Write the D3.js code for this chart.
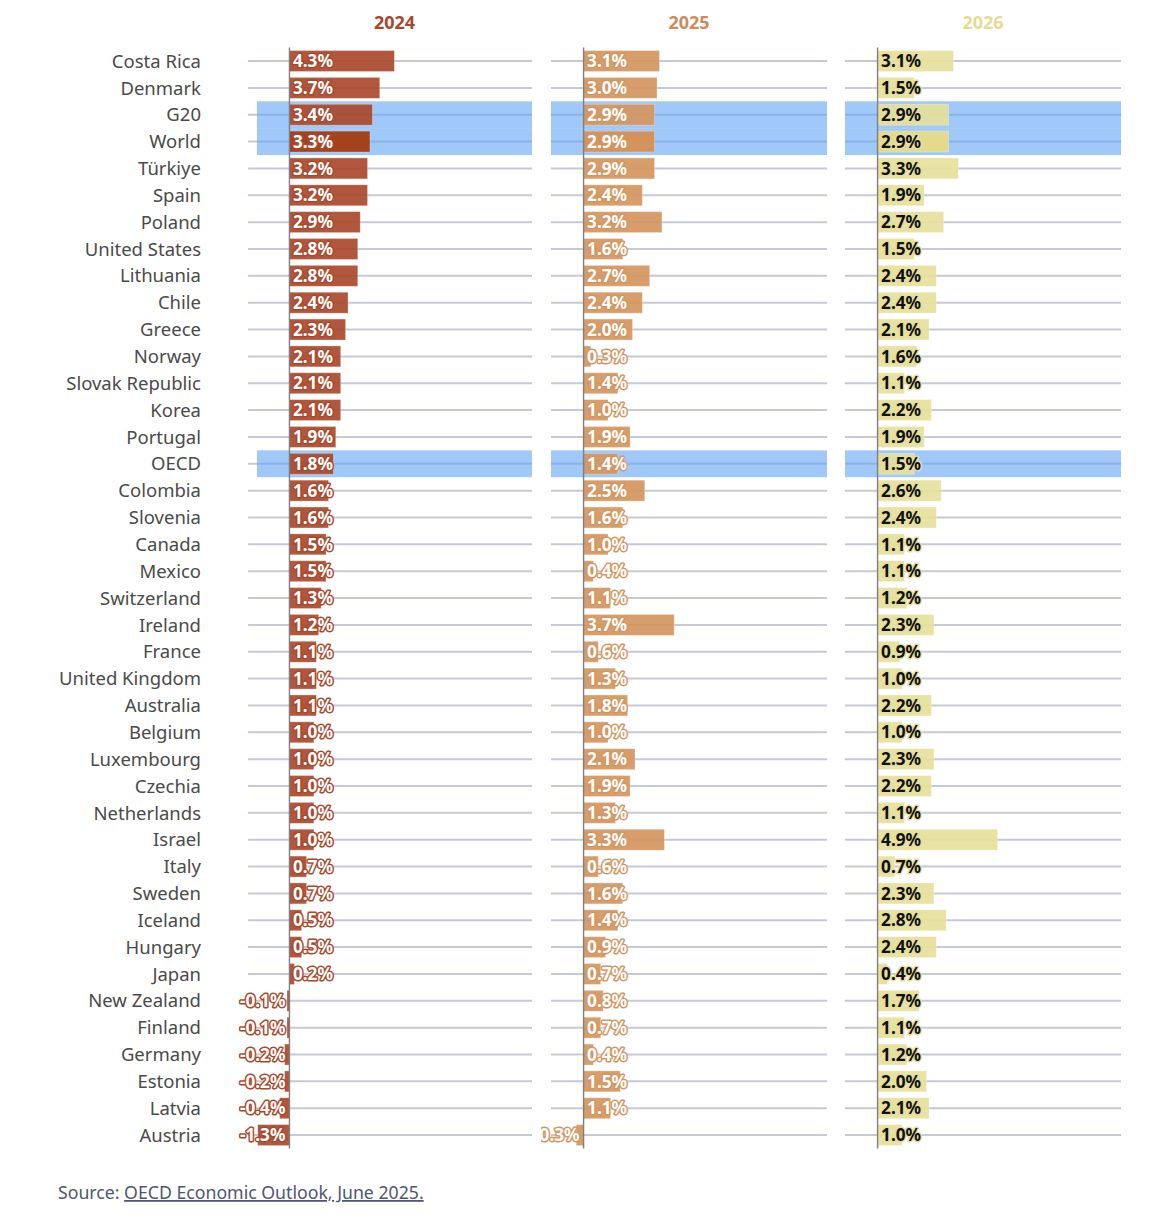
<!DOCTYPE html>
<html>
<head>
<meta charset="utf-8">
<script src="https://cdn.jsdelivr.net/npm/d3@7"></script>
<style>
  html, body { margin: 0; padding: 0; background: #fff; }
  svg { display: block; font-family: "Noto Sans", "Open Sans", sans-serif; }
</style>
</head>
<body>
<svg id="chart" width="1172" height="1216"></svg>
<script>
const countries = ["Costa Rica","Denmark","G20","World","Türkiye","Spain","Poland","United States","Lithuania","Chile","Greece","Norway","Slovak Republic","Korea","Portugal","OECD","Colombia","Slovenia","Canada","Mexico","Switzerland","Ireland","France","United Kingdom","Australia","Belgium","Luxembourg","Czechia","Netherlands","Israel","Italy","Sweden","Iceland","Hungary","Japan","New Zealand","Finland","Germany","Estonia","Latvia","Austria"];
const years = ["2024","2025","2026"];
const growth2024 = [4.3,3.7,3.4,3.3,3.2,3.2,2.9,2.8,2.8,2.4,2.3,2.1,2.1,2.1,1.9,1.8,1.6,1.6,1.5,1.5,1.3,1.2,1.1,1.1,1.1,1.0,1.0,1.0,1.0,1.0,0.7,0.7,0.5,0.5,0.2,-0.1,-0.1,-0.2,-0.2,-0.4,-1.3];
const growth2025 = [3.1,3.0,2.9,2.9,2.9,2.4,3.2,1.6,2.7,2.4,2.0,0.3,1.4,1.0,1.9,1.4,2.5,1.6,1.0,0.4,1.1,3.7,0.6,1.3,1.8,1.0,2.1,1.9,1.3,3.3,0.6,1.6,1.4,0.9,0.7,0.8,0.7,0.4,1.5,1.1,-0.3];
const growth2026 = [3.1,1.5,2.9,2.9,3.3,1.9,2.7,1.5,2.4,2.4,2.1,1.6,1.1,2.2,1.9,1.5,2.6,2.4,1.1,1.1,1.2,2.3,0.9,1.0,2.2,1.0,2.3,2.2,1.1,4.9,0.7,2.3,2.8,2.4,0.4,1.7,1.1,1.2,2.0,2.1,1.0];
const highlighted = ["G20","World","OECD"];
const series = [growth2024, growth2025, growth2026];

const barColors = ["#a9492c", "#d4965f", "#e6df9b"];
const worldColors = ["#a3421c", "#d4925d", "#e3da8e"];
const headColors = ["#a9472a", "#cd8a5c", "#e4dc92"];
const labelFill = ["#ffffff", "#ffffff", "#111111"];

const fmt = d3.formatLocale({ decimal: ".", thousands: ",", grouping: [3], currency: ["", ""], minus: "-" }).format(".1f");

const svg = d3.select("#chart");

const y = d3.scaleBand().domain(countries).range([47.6, 1148.5]).paddingInner(0.22).paddingOuter(0.11);
const rowStep = y.step();
const rowCenter = c => y(c) + y.bandwidth() / 2;

const panels = [
  { left: 257, right: 532, gridLeft: 248, clipLeft: 200 },
  { left: 551, right: 827, gridLeft: 551, clipLeft: 541 },
  { left: 845, right: 1121, gridLeft: 845, clipLeft: 835 }
];

// country labels
svg.append("g").selectAll("text").data(countries).join("text")
  .attr("x", 201).attr("y", d => rowCenter(d)).attr("dy", "0.36em")
  .attr("text-anchor", "end").attr("font-size", 18.5).attr("fill", "#4a4a4a")
  .text(d => d);

const defs = svg.append("defs");

panels.forEach((p, i) => {
  const x = d3.scaleLinear().domain([-1.33, 9.94]).range([p.left, p.right]);
  const vals = series[i];
  const g = svg.append("g");

  defs.append("clipPath").attr("id", "clip" + i)
    .append("rect").attr("x", p.clipLeft).attr("y", 0).attr("width", p.right - p.clipLeft + 5).attr("height", 1216);

  // header
  g.append("text").attr("x", (p.left + p.right) / 2).attr("y", 29)
    .attr("text-anchor", "middle").attr("font-size", 18).attr("font-weight", "bold")
    .attr("fill", headColors[i]).text(years[i]);

  // grid lines
  g.append("g").selectAll("line").data(countries).join("line")
    .attr("x1", p.gridLeft).attr("x2", p.right)
    .attr("y1", d => rowCenter(d)).attr("y2", d => rowCenter(d))
    .attr("stroke", "#c6cad6").attr("stroke-width", 2);

  // highlight bands
  g.append("g").selectAll("rect").data(highlighted).join("rect")
    .attr("x", p.left).attr("width", p.right - p.left)
    .attr("y", d => rowCenter(d) - rowStep / 2).attr("height", rowStep)
    .attr("fill", "#61a3f3").attr("fill-opacity", 0.6);

  const data = countries.map((c, k) => ({ c, v: vals[k] }));

  // bars
  g.append("g").selectAll("rect").data(data).join("rect")
    .attr("x", d => x(Math.min(0, d.v)))
    .attr("width", d => Math.abs(x(d.v) - x(0)))
    .attr("y", d => y(d.c)).attr("height", y.bandwidth())
    .attr("fill", d => d.c === "World" ? worldColors[i] : barColors[i])
    .attr("fill-opacity", d => d.c === "World" ? 1 : 0.92)
    .attr("stroke", "#ffffff").attr("stroke-opacity", 0.35).attr("stroke-width", 0.8);

  // zero axis
  g.append("line").attr("x1", x(0)).attr("x2", x(0)).attr("y1", 47.6).attr("y2", 1148.5)
    .attr("stroke", "#7f7f7f").attr("stroke-width", 1.4);

  // value labels
  g.append("g").attr("clip-path", "url(#clip" + i + ")")
    .selectAll("text").data(data).join("text")
    .attr("x", d => d.v >= 0 ? x(0) + 3.5 : x(0) - 4)
    .attr("y", d => rowCenter(d.c)).attr("dy", "0.36em")
    .attr("text-anchor", d => d.v >= 0 ? "start" : "end")
    .attr("font-size", 17.2).attr("font-weight", "bold")
    .attr("fill", labelFill[i])
    .attr("stroke", barColors[i]).attr("stroke-width", 3).attr("stroke-linejoin", "round")
    .attr("paint-order", "stroke")
    .text(d => fmt(d.v) + "%");
});

// source
const src = svg.append("text").attr("x", 58).attr("y", 1199).attr("font-size", 17.7).attr("fill", "#4f5670");
src.append("tspan").text("Source: ");
src.append("tspan").attr("text-decoration", "underline").text("OECD Economic Outlook, June 2025.");
</script>
</body>
</html>
